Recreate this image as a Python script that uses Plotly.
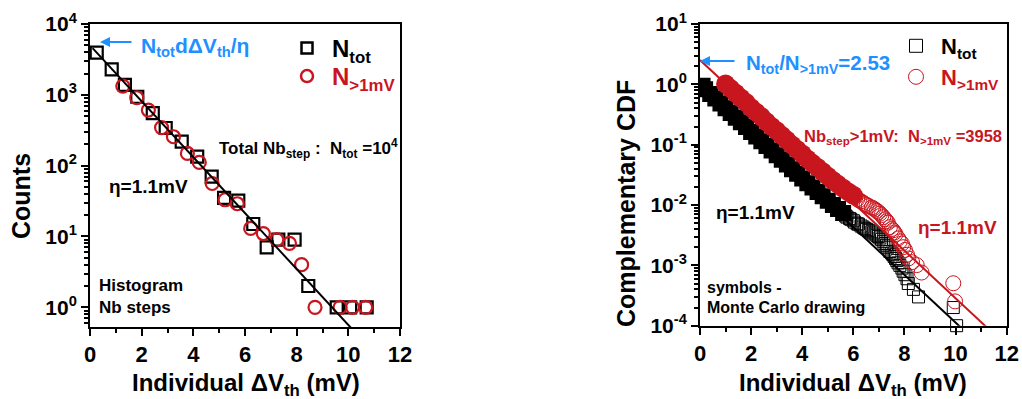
import math
import plotly.graph_objects as go

W, H = 1022, 399
FONT = "Liberation Sans, Arial, Helvetica, sans-serif"
BLACK = "#000000"
RED = "#C8161E"
BLUE = "#1E90FF"

# ---------------- data ----------------
# Histogram of individual step amplitudes (counts per bin), all steps
hist_tot_x = [0.26, 0.84, 1.35, 1.83, 2.43, 2.93, 3.55, 4.15, 4.71, 5.19,
              5.74, 6.32, 6.84, 7.29, 7.92, 8.45, 9.55, 10.07, 10.71]
hist_tot_y = [3940, 2290, 1380, 940, 550, 340, 218, 134, 70, 35,
              32, 15, 7, 9, 9, 2, 1, 1, 1]
# Histogram, steps larger than 1 mV
hist_gt1_x = [1.27, 1.81, 2.26, 2.77, 3.23, 3.77, 4.23, 4.73, 5.23, 5.70,
              6.22, 6.71, 7.23, 7.72, 8.19, 8.71, 9.68, 10.16, 10.67]
hist_gt1_y = [1330, 910, 610, 345, 256, 149, 111, 56, 33, 29,
              13, 11, 9, 8, 4, 1, 1, 1, 1]

# Monte Carlo complementary CDF, all steps
ccdf_tot_x = [0.1, 0.2, 0.4, 0.6, 0.8, 1.0, 1.2, 1.4, 1.6, 1.8,
              2.0, 2.2, 2.4, 2.6, 2.8, 3.0, 3.2, 3.4, 3.6, 3.8,
              4.0, 4.2, 4.4, 4.6, 4.8, 5.0, 5.2, 5.4, 5.6,
              5.7, 5.75, 5.85, 5.9, 6.0, 6.05, 6.15, 6.2, 6.3, 6.38, 6.45,
              6.52, 6.6, 6.72, 6.78, 6.85, 6.92, 6.98, 7.04, 7.1, 7.17,
              7.24, 7.3, 7.35, 7.43, 7.5, 7.55, 7.6, 7.65, 7.7, 7.75,
              7.82, 7.9, 7.95, 8.02, 8.1, 8.15, 8.35, 8.55, 9.91, 10.04]
ccdf_tot_y = [0.95, 0.83, 0.69, 0.58, 0.48, 0.40, 0.335, 0.28, 0.235, 0.196,
              0.163, 0.136, 0.114, 0.095, 0.080, 0.067, 0.056, 0.047, 0.039, 0.033,
              0.0275, 0.023, 0.0195, 0.0165, 0.014, 0.0118, 0.0100, 0.0086, 0.0074,
              6.6e-3, 6.3e-3, 6.0e-3, 5.8e-3, 5.5e-3, 5.2e-3, 4.9e-3, 4.8e-3, 4.5e-3, 4.3e-3, 4.1e-3,
              3.95e-3, 3.8e-3, 3.6e-3, 3.45e-3, 3.3e-3, 3.15e-3, 3.0e-3, 2.85e-3, 2.7e-3, 2.5e-3,
              2.3e-3, 2.15e-3, 2.0e-3, 1.7e-3, 1.6e-3, 1.5e-3, 1.4e-3, 1.3e-3, 1.2e-3, 1.1e-3,
              1.0e-3, 9e-4, 8e-4, 7e-4, 6e-4, 5e-4, 4e-4, 3e-4, 2e-4, 1e-4]

# Monte Carlo complementary CDF, steps larger than 1 mV
ccdf_gt1_x = [1.0, 1.2, 1.4, 1.6, 1.8, 2.0, 2.2, 2.4, 2.6, 2.8,
              3.0, 3.2, 3.4, 3.6, 3.8, 4.0, 4.2, 4.4, 4.6, 4.8,
              5.0, 5.2, 5.4, 5.6, 5.8, 6.0,
              6.08, 6.15, 6.22, 6.3, 6.38, 6.45, 6.52, 6.6, 6.72, 6.78,
              6.85, 6.92, 6.98, 7.04, 7.1, 7.17, 7.24, 7.3, 7.35, 7.43,
              7.5, 7.55, 7.6, 7.65, 7.75, 7.82, 7.9, 7.95, 8.02, 8.1,
              8.15, 8.3, 8.48, 8.67, 9.91, 9.98]
ccdf_gt1_y = [1.01, 0.85, 0.71, 0.595, 0.50, 0.41, 0.345, 0.29, 0.24, 0.20,
              0.17, 0.142, 0.119, 0.099, 0.083, 0.070, 0.058, 0.049, 0.042, 0.0355,
              0.030, 0.0255, 0.022, 0.019, 0.0165, 0.0145,
              0.0135, 0.0125, 0.012, 0.0115, 0.0109, 0.0104, 0.0100, 0.0096, 0.0091, 0.0088,
              0.0084, 0.0080, 0.0076, 0.0072, 0.0068, 0.0063, 0.0058, 0.0054, 0.0051, 0.0043,
              0.0040, 0.0038, 0.0035, 0.0033, 0.0028, 0.0025, 0.0023, 0.0020, 0.0018, 0.0015,
              0.0013, 0.00113, 0.00101, 0.00076, 0.000505, 0.000253]

# Exponential model parameters
eta = 1.1           # mV
n_tot = 10000
n_gt1 = 3958
bin_width = 0.55    # mV, histogram bin

x_tick_vals = [0, 2, 4, 6, 8, 10, 12]
hist_decades = [0, 1, 2, 3, 4]
ccdf_decades = [-4, -3, -2, -1, 0, 1]

# ---------------- model lines ----------------
amp_hist = n_tot * bin_width / eta
ratio = n_tot / n_gt1
fit_hist_x = [0.1, 10.3]
fit_hist_y = [amp_hist * math.exp(-v / eta) for v in fit_hist_x]
fit_tot_x = [0.0, 10.3]
fit_tot_y = [math.exp(-v / eta) for v in fit_tot_x]
fit_gt1_x = [0.0, 11.3]
fit_gt1_y = [ratio * math.exp(-v / eta) for v in fit_gt1_x]


def px(x):
    return x / W


def py(y):
    return 1 - y / H


fig = go.Figure()

# ---- left panel: histogram ----
fig.add_trace(go.Scatter(
    x=hist_tot_x, y=hist_tot_y, mode="markers", xaxis="x", yaxis="y",
    marker=dict(symbol="square-open", size=12, color=BLACK, line=dict(width=2.2)),
    showlegend=False))
fig.add_trace(go.Scatter(
    x=hist_gt1_x, y=hist_gt1_y, mode="markers", xaxis="x", yaxis="y",
    marker=dict(symbol="circle-open", size=13, color=RED, line=dict(width=2.2)),
    showlegend=False))
fig.add_trace(go.Scatter(
    x=fit_hist_x, y=fit_hist_y, mode="lines", xaxis="x", yaxis="y",
    line=dict(color=BLACK, width=2), showlegend=False))

# ---- right panel: complementary CDF ----
# the densely populated part of each draw merges into a solid band,
# the sparse tail is shown with open symbols
def split(xs, ys, cut):
    dense = [(a, b) for a, b in zip(xs, ys) if a <= cut]
    tail = [(a, b) for a, b in zip(xs, ys) if a > cut]
    return ([a for a, _ in dense], [b for _, b in dense],
            [a for a, _ in tail], [b for _, b in tail])


tot_dx, tot_dy, tot_tx, tot_ty = split(ccdf_tot_x, ccdf_tot_y, 5.6)
gt1_dx, gt1_dy, gt1_tx, gt1_ty = split(ccdf_gt1_x, ccdf_gt1_y, 6.0)

fig.add_trace(go.Scatter(
    x=tot_dx, y=tot_dy, mode="markers", xaxis="x2", yaxis="y2",
    marker=dict(symbol="square", size=16, color=BLACK, line=dict(width=0)),
    showlegend=False))
fig.add_trace(go.Scatter(
    x=tot_tx, y=tot_ty, mode="markers", xaxis="x2", yaxis="y2",
    marker=dict(symbol="square-open", size=12, color=BLACK, line=dict(width=1)),
    cliponaxis=False, showlegend=False))
fig.add_trace(go.Scatter(
    x=gt1_dx, y=gt1_dy, mode="markers", xaxis="x2", yaxis="y2",
    marker=dict(symbol="circle", size=19, color=RED, line=dict(width=0)),
    showlegend=False))
fig.add_trace(go.Scatter(
    x=gt1_tx, y=gt1_ty, mode="markers", xaxis="x2", yaxis="y2",
    marker=dict(symbol="circle-open", size=15, color=RED, line=dict(width=1)),
    cliponaxis=False, showlegend=False))
fig.add_trace(go.Scatter(
    x=fit_tot_x, y=fit_tot_y, mode="lines", xaxis="x2", yaxis="y2",
    line=dict(color=BLACK, width=2), showlegend=False))
fig.add_trace(go.Scatter(
    x=fit_gt1_x, y=fit_gt1_y, mode="lines", xaxis="x2", yaxis="y2",
    line=dict(color=RED, width=2), showlegend=False))

# ---- legend entries (one small legend per entry) ----
fig.add_trace(go.Scatter(
    x=[None], y=[None], mode="markers", xaxis="x", yaxis="y", legend="legend",
    name="N<sub>tot</sub>",
    marker=dict(symbol="square-open", size=11, color=BLACK, line=dict(width=2.5))))
fig.add_trace(go.Scatter(
    x=[None], y=[None], mode="markers", xaxis="x", yaxis="y", legend="legend2",
    name="<span style='color:%s'>N<sub>&gt;1mV</sub></span>" % RED,
    marker=dict(symbol="circle-open", size=12, color=RED, line=dict(width=2.5))))
fig.add_trace(go.Scatter(
    x=[None], y=[None], mode="markers", xaxis="x2", yaxis="y2", legend="legend3",
    name="N<sub>tot</sub>",
    marker=dict(symbol="square-open", size=13, color=BLACK, line=dict(width=1))))
fig.add_trace(go.Scatter(
    x=[None], y=[None], mode="markers", xaxis="x2", yaxis="y2", legend="legend4",
    name="<span style='color:%s'>N<sub>&gt;1mV</sub></span>" % RED,
    marker=dict(symbol="circle-open", size=15, color=RED, line=dict(width=1))))

tick_font = dict(family=FONT, size=21, color=BLACK, weight="bold")
x_tick_font = dict(family=FONT, size=22, color=BLACK, weight="bold")


def x_axis(domain, anchor):
    return dict(domain=domain, anchor=anchor, range=[0, 12], automargin=False,
                tickmode="array", tickvals=x_tick_vals,
                ticktext=[str(v) for v in x_tick_vals],
                ticks="outside", ticklen=7, tickwidth=2, tickcolor=BLACK,
                minor=dict(tickvals=[1, 3, 5, 7, 9, 11], ticks="outside",
                           ticklen=4, tickwidth=2, tickcolor=BLACK),
                showline=True, linewidth=2, linecolor=BLACK, mirror=True,
                showgrid=False, zeroline=False, tickfont=x_tick_font)


def y_axis(domain, anchor, decades, lo):
    vals = [10.0 ** d for d in decades]
    text = ["10<sup>%s</sup>" % (str(d) if d >= 0 else "-" + str(-d)) for d in decades]
    minor_vals = [m * 10.0 ** d for d in range(decades[0] - 1, decades[-1])
                  for m in range(2, 10) if m * 10.0 ** d >= 10 ** lo]
    return dict(domain=domain, anchor=anchor, type="log", automargin=False,
                range=[lo, decades[-1]],
                tickmode="array", tickvals=vals, ticktext=text,
                ticks="outside", ticklen=7, tickwidth=2, tickcolor=BLACK,
                minor=dict(tickvals=minor_vals, ticks="outside", ticklen=4,
                           tickwidth=1.5, tickcolor=BLACK),
                showline=True, linewidth=2, linecolor=BLACK, mirror=True,
                showgrid=False, zeroline=False, tickfont=tick_font)


def legend_box(x, y, size):
    return dict(x=px(x), y=py(y), xanchor="left", yanchor="top",
                bgcolor="rgba(0,0,0,0)", borderwidth=0, itemwidth=40,
                font=dict(family=FONT, size=size, color=BLACK, weight="bold"))


fig.update_layout(
    width=W, height=H,
    margin=dict(l=0, r=0, t=0, b=0, autoexpand=False),
    paper_bgcolor="white", plot_bgcolor="white",
    font=dict(family=FONT, color=BLACK),
    xaxis=x_axis([px(90), px(400)], "y"),
    yaxis=y_axis([py(327), py(24)], "x", hist_decades, -0.278),
    xaxis2=x_axis([px(700), px(1006.7)], "y2"),
    yaxis2=y_axis([py(325.7), py(24)], "x2", ccdf_decades, -4),
    legend=legend_box(282, 26, 24),
    legend2=legend_box(282, 54, 24),
    legend3=legend_box(891, 25, 22),
    legend4=legend_box(891, 56, 22),
)


def label(text, x, y, size, color=BLACK, xanchor="left", angle=0):
    fig.add_annotation(text=text, x=px(x), y=py(y), xref="paper", yref="paper",
                       xanchor=xanchor, yanchor="middle", showarrow=False,
                       textangle=angle,
                       font=dict(family=FONT, size=size, color=color, weight="bold"))


def arrow(x_head, y_head, length, color):
    fig.add_annotation(text="", x=px(x_head), y=py(y_head), xref="paper", yref="paper",
                       ax=length, ay=0, showarrow=True, arrowhead=2, arrowsize=1,
                       arrowwidth=2, arrowcolor=color)


# axis titles
label("Individual \u0394V<sub>th</sub> (mV)", 246, 384, 24, xanchor="center")
label("Individual \u0394V<sub>th</sub> (mV)", 853, 384, 24, xanchor="center")
label("Counts", 21, 196, 25, xanchor="center", angle=-90)
label("Complementary CDF", 626, 204, 25, xanchor="center", angle=-90)

# left panel notes
arrow(100, 42, 33, BLUE)
label("N<sub>tot</sub>d\u0394V<sub>th</sub>/\u03b7", 139, 47, 21, BLUE)
label("Total Nb<sub>step</sub> :  N<sub>tot</sub> =10<sup>4</sup>", 217, 148, 17)
label("\u03b7=1.1mV", 107, 186, 19)
label("Histogram", 97, 285, 17)
label("Nb steps", 97, 307, 17)

# right panel notes
arrow(700, 61, 36, BLUE)
label("N<sub>tot</sub>/N<sub>&gt;1mV</sub>=%.2f" % ratio, 744, 64, 20.5, BLUE)
label("Nb<sub>step</sub>&gt;1mV:&nbsp;&nbsp;N<sub>&gt;1mV</sub> =%d" % n_gt1, 802, 137, 16.5, RED)
label("\u03b7=%.1fmV" % eta, 714, 212, 19)
label("\u03b7=%.1fmV" % eta, 916, 227, 19, RED)
label("symbols -", 705, 287, 16)
label("Monte Carlo drawing", 705, 307, 16)

fig.write_html("out.html")
